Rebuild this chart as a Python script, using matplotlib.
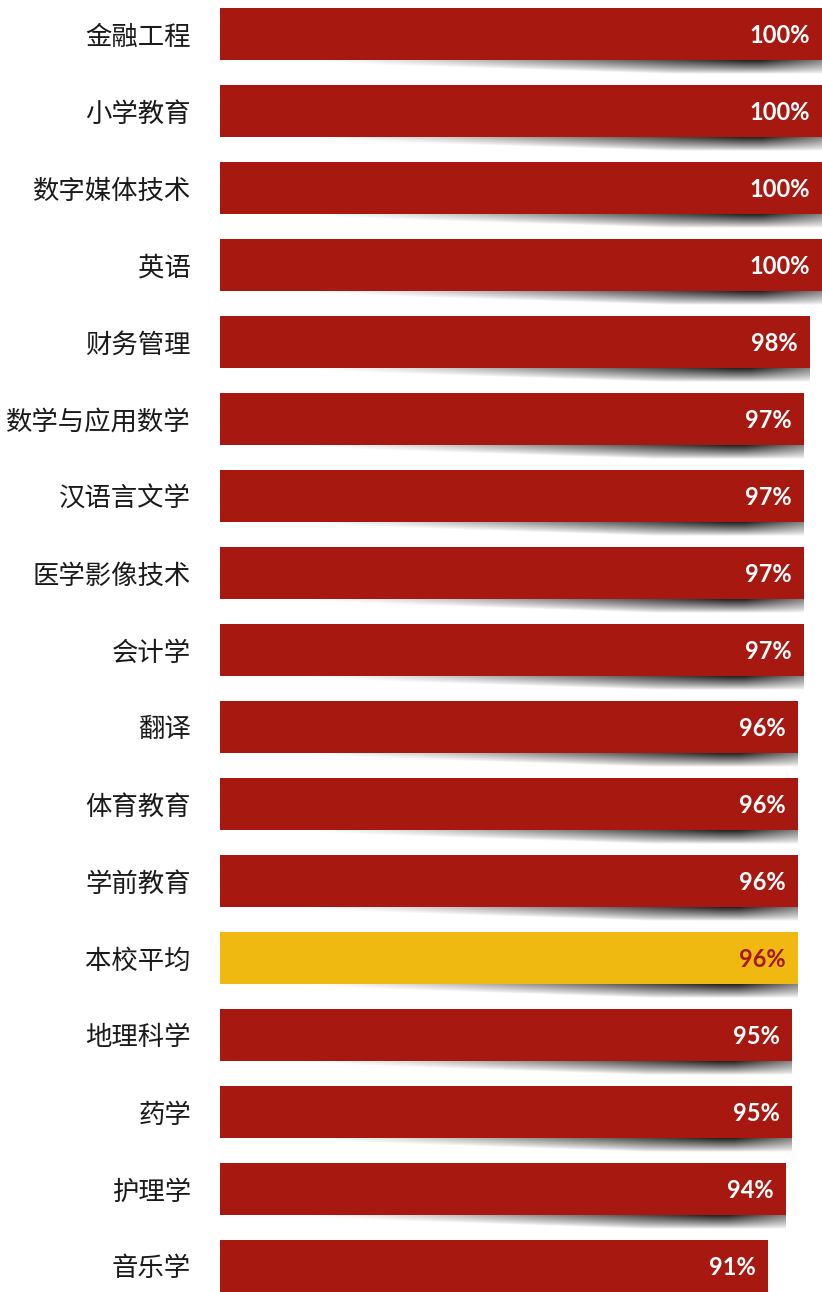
import numpy as np
import matplotlib
matplotlib.use('Agg')
import matplotlib.pyplot as plt

# Data
majors = ['金融工程', '小学教育', '数字媒体技术', '英语', '财务管理', '数学与应用数学',
          '汉语言文学', '医学影像技术', '会计学', '翻译', '体育教育', '学前教育',
          '本校平均', '地理科学', '药学', '护理学', '音乐学']
rates = [100, 100, 100, 100, 98, 97, 97, 97, 97, 96, 96, 96, 96, 95, 95, 94, 91]
highlight = '本校平均'

RED = '#A71811'
GOLD = '#F0B912'

plt.rcParams['font.family'] = ['Noto Sans CJK SC', 'DejaVu Sans']

fig = plt.figure(figsize=(8.22, 12.92), dpi=100)
ax = fig.add_axes([220 / 822, 0, 602 / 822, 1])

bar_h = 0.67
shadow_h = 0.19

# curled shadow texture under each bar
nx, ny = 400, 40
xs = np.linspace(0, 1, nx)
ys = np.linspace(0, 1, ny)[:, None]
ramp = np.clip((xs - 0.15) / 0.72, 0, 1)
fx = ramp ** 1.2
fx = np.where(xs > 0.9, 1 - (xs - 0.9) / 0.1 * 0.45, fx)
thick = 0.3 + 0.7 * np.clip((xs - 0.2) / 0.55, 0, 1)
alpha = fx * np.clip(1 - ys / thick, 0, 1) ** 0.8
shadow = np.zeros((ny, nx, 4))
shadow[..., :3] = 0.08
shadow[..., 3] = np.clip(alpha, 0, 1)

for i, (name, val) in enumerate(zip(majors, rates)):
    col = GOLD if name == highlight else RED
    ax.barh(i, val, height=bar_h, color=col, zorder=3)
    bottom = i + bar_h / 2
    ax.imshow(shadow, extent=(0, val, bottom + shadow_h, bottom), aspect='auto',
              interpolation='bilinear', zorder=2)
    tcol = RED if name == highlight else 'white'
    ax.annotate(f'{val}%', xy=(val, i), xytext=(-9, -1), textcoords='offset points',
                ha='right', va='center', color=tcol, fontsize=17, fontweight='bold',
                family=['Lato', 'DejaVu Sans'], zorder=4)

ax.set_yticks(range(len(majors)))
ax.set_yticklabels(majors, fontsize=19, color='#1a1a1a')
ax.tick_params(axis='y', length=0, pad=21)
ax.set_xticks([])
ax.set_xlim(0, 100)
ax.set_ylim(16.338, -0.4416)
for s in ax.spines.values():
    s.set_visible(False)

fig.savefig('out.png', dpi=100)
